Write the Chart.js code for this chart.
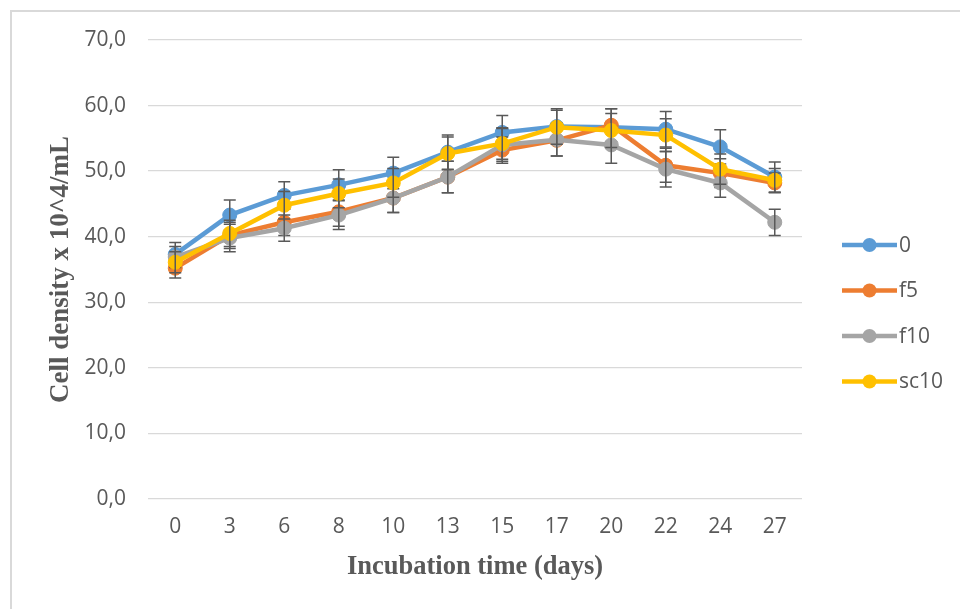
<!DOCTYPE html>
<html>
<head>
<meta charset="utf-8">
<title>Cell density</title>
<script src="https://cdn.jsdelivr.net/npm/chart.js@4.4.1/dist/chart.umd.min.js"></script>
<style>
    html, body { margin: 0; padding: 0; background: #ffffff; }
    #contenedor { width: 960px; height: 609px; }
</style>
</head>
<body>
<div id="contenedor"><canvas id="graficoDensidad"></canvas></div>
<script>
// Días de incubación (categorías del eje X)
const dias = ['0', '3', '6', '8', '10', '13', '15', '17', '20', '22', '24', '27'];

// Densidad celular (x 10^4/mL)
const serieControl = [37.3, 43.3, 46.3, 47.9, 49.7, 52.9, 55.9, 56.8, 56.7, 56.4, 53.7, 49.1];
const serieF5 = [35.2, 40.2, 42.2, 43.8, 45.9, 49.1, 53.2, 54.7, 57.0, 50.9, 49.7, 48.2];
const serieF10 = [36.9, 39.8, 41.3, 43.3, 45.9, 49.1, 54.0, 54.8, 54.0, 50.3, 48.2, 42.2];
const serieSc10 = [36.1, 40.5, 44.8, 46.6, 48.2, 52.7, 54.2, 56.7, 56.2, 55.5, 50.3, 48.6];

// Barras de error (desviación estimada)
const errorControl = [1.8, 2.3, 2.1, 2.3, 2.4, 2.6, 2.6, 2.7, 2.8, 2.7, 2.6, 2.3];
const errorF5 = [1.5, 2.0, 2.0, 2.2, 2.2, 2.4, 2.0, 2.4, 2.5, 2.6, 2.2, 1.5];
const errorF10 = [1.6, 2.1, 2.0, 2.2, 2.2, 2.4, 2.5, 2.5, 2.8, 2.7, 2.2, 2.0];
const errorSc10 = [1.6, 2.0, 2.1, 2.2, 2.2, 2.5, 2.4, 2.6, 2.6, 2.5, 2.3, 1.8];

// Etiquetas de la leyenda y ticks del eje Y
const nombresSeries = ['0', 'f5', 'f10', 'sc10'];
const ticksY = [0, 10, 20, 30, 40, 50, 60, 70];

const colores = ['#5B9BD5', '#ED7D31', '#A5A5A5', '#FFC000'];
const valores = [serieControl, serieF5, serieF10, serieSc10];
const errores = [errorControl, errorF5, errorF10, errorSc10];

// Fondo blanco y marco gris como en Excel
const pluginMarco = {
    id: 'marco',
    beforeDraw(chart) {
        const ctx = chart.ctx;
        ctx.save();
        ctx.fillStyle = '#ffffff';
        ctx.fillRect(0, 0, chart.width, chart.height);
        ctx.strokeStyle = '#d9d9d9';
        ctx.lineWidth = 2;
        ctx.beginPath();
        ctx.moveTo(11, chart.height);
        ctx.lineTo(11, 11);
        ctx.lineTo(chart.width, 11);
        ctx.stroke();
        ctx.restore();
    }
};

// Barras de error de cada serie, justo después de dibujarla (las siguientes quedan encima)
const pluginErrores = {
    id: 'errores',
    afterDatasetDraw(chart, args) {
        const ctx = chart.ctx;
        const y = chart.scales.y;
        const i = args.index;
        const ds = chart.data.datasets[i];
        ctx.save();
        ctx.strokeStyle = '#595959';
        ctx.lineWidth = 1.5;
        args.meta.data.forEach((punto, j) => {
            const e = errores[i][j];
            const arriba = y.getPixelForValue(ds.data[j] + e);
            const abajo = y.getPixelForValue(ds.data[j] - e);
            ctx.beginPath();
            ctx.moveTo(punto.x, arriba);
            ctx.lineTo(punto.x, abajo);
            ctx.moveTo(punto.x - 6, arriba);
            ctx.lineTo(punto.x + 6, arriba);
            ctx.moveTo(punto.x - 6, abajo);
            ctx.lineTo(punto.x + 6, abajo);
            ctx.stroke();
        });
        ctx.restore();
    }
};

// Leyenda a la derecha con línea y marcador
const pluginLeyenda = {
    id: 'leyenda',
    afterDraw(chart) {
        const ctx = chart.ctx;
        ctx.save();
        ctx.font = '21px "Open Sans"';
        ctx.textBaseline = 'middle';
        nombresSeries.forEach((nombre, i) => {
            const yc = 245 + i * 45.5;
            ctx.strokeStyle = colores[i];
            ctx.lineWidth = 4.5;
            ctx.beginPath();
            ctx.moveTo(842, yc);
            ctx.lineTo(897, yc);
            ctx.stroke();
            ctx.fillStyle = colores[i];
            ctx.beginPath();
            ctx.arc(869.5, yc, 7, 0, Math.PI * 2);
            ctx.fill();
            ctx.fillStyle = '#595959';
            ctx.fillText(nombre, 899, yc + 1);
        });
        ctx.restore();
    }
};

function generarGrafico() {
    const ctx = document.getElementById('graficoDensidad').getContext('2d');
    new Chart(ctx, {
        type: 'line',
        data: {
            labels: dias,
            datasets: nombresSeries.map((nombre, i) => ({
                label: nombre,
                data: valores[i],
                borderColor: colores[i],
                backgroundColor: colores[i],
                borderWidth: 4.5,
                pointRadius: 7,
                pointBorderWidth: 1,
                pointBackgroundColor: colores[i],
                pointBorderColor: colores[i],
                tension: 0,
                order: nombresSeries.length - 1 - i  // sc10 queda encima
            }))
        },
        options: {
            responsive: true,
            maintainAspectRatio: false,
            animation: false,
            layout: {
                padding: { left: 45, right: 158, top: 40, bottom: 26 }
            },
            plugins: {
                legend: { display: false },
                tooltip: { enabled: false }
            },
            scales: {
                x: {
                    type: 'category',
                    offset: true,
                    grid: { display: false, drawTicks: false },
                    border: { display: false },
                    ticks: {
                        color: '#595959',
                        padding: 15,
                        font: { family: '"Open Sans"', size: 21 }
                    },
                    title: {
                        display: true,
                        text: 'Incubation time (days)',
                        color: '#595959',
                        padding: 0,
                        font: { family: '"Liberation Serif"', size: 26.5, weight: 'bold' }
                    },
                    afterFit(scale) { scale.height = 84; }
                },
                y: {
                    min: 0,
                    max: 70,
                    afterBuildTicks(scale) {
                        scale.ticks = ticksY.map(v => ({ value: v }));
                    },
                    grid: { color: '#d9d9d9', lineWidth: 1.3, drawTicks: false },
                    border: { display: false },
                    ticks: {
                        color: '#595959',
                        padding: 22,
                        font: { family: '"Open Sans"', size: 21 },
                        callback: v => v.toFixed(1).replace('.', ',')
                    },
                    title: {
                        display: true,
                        text: 'Cell density x 10^4/mL',
                        color: '#595959',
                        padding: 0,
                        font: { family: '"Liberation Serif"', size: 27, weight: 'bold' }
                    },
                    afterFit(scale) { scale.width = 103; }
                }
            }
        },
        plugins: [pluginMarco, pluginErrores, pluginLeyenda]
    });
}

window.onload = function() {
    generarGrafico();
};
</script>
</body>
</html>
